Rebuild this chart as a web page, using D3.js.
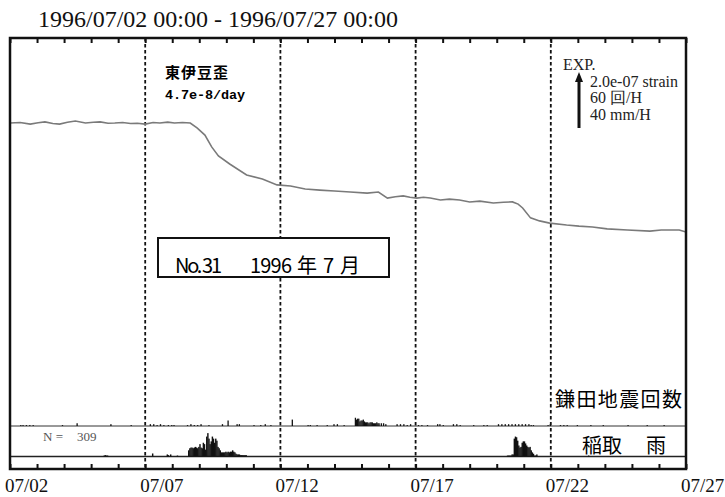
<!DOCTYPE html>
<html><head><meta charset="utf-8">
<script src="https://cdn.jsdelivr.net/npm/d3@7"></script>
<style>
html,body{margin:0;padding:0;background:#fff;}
svg{display:block;}
</style></head>
<body>
<svg id="chart" width="725" height="497"></svg>
<script>
// ---------- DATA ----------
const titleText = "1996/07/02 00:00 - 1996/07/27 00:00";
const startDay = "1996-07-02T00:00:00Z";
const endDay = "1996-07-27T00:00:00Z";
const tickLabels = ["07/02","07/07","07/12","07/17","07/22","07/27"];
const labelDays = [0,5,10,15,20,25];
const dashedDays = [5,10,15,20];

// strain (hours since start, value in 1e-8 strain, relative)
const strainHours = [0,9,18,25,31,38,44,51,58,67,74,80,87,93,100,107,113,120,127,133,140,146,153,160,166,173,179,185,195,210,224,237,249,262,275,288,302,317,327,335,342,349,355,361,367,373,382,390,399,408,417,429,438,446,451,455,462,470,479,494,505,517,530,548,568,578,588,594,600];
const strainValues = [0,0.2,-0.4,0.1,0.4,-0.2,-0.4,0.3,0.7,0,0.3,0.4,-0.1,0,0.2,-0.2,-0.1,-0.4,0.2,0,0.3,0,0.2,0,-1.8,-4.4,-8.7,-12.0,-14.9,-18.9,-20.4,-22.5,-22.9,-24.0,-24.4,-24.7,-25.1,-25.5,-25.1,-27.3,-26.8,-26.5,-27.0,-27.3,-27.0,-27.3,-28.0,-27.7,-28.0,-28.7,-28.4,-29.1,-28.8,-28.7,-29.5,-30.9,-34.5,-35.6,-36.4,-37.1,-37.5,-37.8,-38.5,-38.9,-39.3,-38.9,-38.9,-38.9,-39.6];

// earthquake counts (Kamata) per hour: [hour, count]
const quakeCounts = [[9,1],[11,1],[14,1],[17,1],[20,1],[46,1],[59,3],[89,2],[107,1],[124,2],[127,2],[130,1],[133,2],[136,1],[140,1],[143,1],[145,1],[157,1],[160,2],[163,1],[166,1],[169,2],[176,1],[188,2],[193,6],[201,2],[203,2],[216,1],[222,1],[226,2],[231,1],[250,7],[264,1],[266,1],[272,1],[281,1],[287,2],[290,2],[296,1],[306,9],[307,7],[308,8],[309,8],[310,5],[311,6],[312,6],[313,7],[314,5],[315,4],[316,4],[317,4],[318,3],[319,4],[320,4],[321,4],[322,3],[323,3],[324,3],[325,4],[326,3],[327,3],[329,3],[331,3],[333,2],[343,2],[346,2],[349,2],[352,1],[355,2],[362,1],[365,1],[370,1],[379,2],[381,2],[384,1],[393,2],[396,2],[399,1],[411,1],[420,1],[423,1],[433,2],[436,2],[439,2],[442,2],[445,2],[448,2],[451,2],[454,2],[457,2],[460,2],[462,1],[464,1],[477,1],[479,2],[488,1],[491,1],[494,1],[503,1],[515,1],[526,1],[548,1],[565,1],[580,1]];

// rainfall (Inatori) mm/H: small isolated hours [hour, mm]
const rainSingles = [[83,0.7],[84,1],[85,0.7],[86,0.7],[126,2.2],[139,1.5],[140,1],[142,1.5],[148,0.7],[513,0.7]];
// rainfall runs: start hour and consecutive hourly mm values
const rainRunAStart = 158;
const rainRunA = [4.5,6,6.5,6.5,6,6.5,7,6.5,6,7,9,6.5,6,10,9,5,14.5,17,13,9,11,14.5,13,10,13,11.5,7,6,4.5,3,3,3,3,3.5,3,3.5,3,3.5,3.5,4.5,3.5,3,2,1.5,1.5,1.5,1,1,1,1,1,1];
const rainRunBStart = 441;
const rainRunB = [0.7,0.7,0.7,0.7,1.5,1.5,13,14.5,14,11.5,8,6.5,7,10,11,11,9.5,8,7,6.5,7,4.5,3,2,0.7,0.7,1.5];

// ---------- LAYOUT ----------
const L = 10, R = 686, T = 38, B = 469;
const svg = d3.select("#chart");
const t0 = new Date(startDay), t1 = new Date(endDay);
const hr = h => new Date(t0.getTime() + h * 3600e3);
const day = d => new Date(t0.getTime() + d * 86400e3);
const x = d3.scaleUtc().domain([t0, t1]).range([L, R]);

// strain scale: 2.0e-07 strain (20 units) = arrow length
const yS = d3.scaleLinear().domain([0, -20]).range([123, 178]);
// earthquake: 60 counts/H = arrow length
const eqBase = 426;
const yQ = d3.scaleLinear().domain([0, 60]).range([eqBase, eqBase - 55]);
// rain: 40 mm/H = arrow length
const rnBase = 456.5;
const yR = d3.scaleLinear().domain([0, 40]).range([rnBase, rnBase - 55]);

const serif = "Liberation Serif, Times New Roman, serif";
const cjk = "Noto Sans CJK JP, sans-serif";

// Title
svg.append("text").attr("x", 38).attr("y", 27)
  .attr("font-family", serif).attr("font-size", 24)
  .attr("fill", "#111").text(titleText);

// dashed day lines
svg.append("g").selectAll("line").data(dashedDays).join("line")
  .attr("x1", d => x(day(d))).attr("x2", d => x(day(d)))
  .attr("y1", T).attr("y2", B)
  .attr("stroke", "#111").attr("stroke-width", 1.8).attr("stroke-dasharray", "3.5,2.5");

// panel separators
svg.append("line").attr("x1", L).attr("x2", R).attr("y1", eqBase).attr("y2", eqBase)
  .attr("stroke", "#333").attr("stroke-width", 1);
svg.append("line").attr("x1", L).attr("x2", R).attr("y1", rnBase).attr("y2", rnBase)
  .attr("stroke", "#222").attr("stroke-width", 1.6);

// daily ticks via axes
const allDays = d3.range(0, 26).map(day);
const axB = d3.axisBottom(x).tickValues(allDays).tickSize(-5).tickFormat("");
const gB = svg.append("g").attr("transform", `translate(0,${B})`).call(axB);
gB.select(".domain").remove();
gB.selectAll(".tick line").attr("stroke", "#111").attr("stroke-width", 2);
const axT = d3.axisTop(x).tickValues(allDays).tickSize(-5).tickFormat("");
const gT = svg.append("g").attr("transform", `translate(0,${T})`).call(axT);
gT.select(".domain").remove();
gT.selectAll(".tick line").attr("stroke", "#111").attr("stroke-width", 2);

// tick labels
svg.append("g").selectAll("text").data(labelDays).join("text")
  .attr("x", d => x(day(d)) - 5).attr("y", 492)
  .attr("font-family", serif).attr("font-size", 19)
  .attr("fill", "#111").text((d, i) => tickLabels[i]);

// strain line
const strainData = strainHours.map((h, i) => ({t: hr(h), v: strainValues[i]}));
svg.append("path").datum(strainData)
  .attr("d", d3.line().x(d => x(d.t)).y(d => yS(d.v)))
  .attr("fill", "none").attr("stroke", "#7a7a7a").attr("stroke-width", 1.6);

// earthquakes
const barW = x(hr(1)) - x(hr(0));
svg.append("g").selectAll("rect").data(quakeCounts).join("rect")
  .attr("x", d => x(hr(d[0]))).attr("width", Math.max(1.3, barW))
  .attr("y", d => yQ(d[1])).attr("height", d => eqBase - yQ(d[1]))
  .attr("fill", "#111");

// rain
const rainData = rainSingles.map(d => d.slice())
  .concat(rainRunA.map((v, i) => [rainRunAStart + i, v]))
  .concat(rainRunB.map((v, i) => [rainRunBStart + i, v]));
svg.append("g").selectAll("rect").data(rainData).join("rect")
  .attr("x", d => x(hr(d[0]))).attr("width", barW + 0.3)
  .attr("y", d => yR(d[1])).attr("height", d => rnBase - yR(d[1]))
  .attr("fill", "#111");

// frame
svg.append("rect").attr("x", L).attr("y", T).attr("width", R - L).attr("height", B - T)
  .attr("fill", "none").attr("stroke", "#111").attr("stroke-width", 2.5);

// strain station label
svg.append("text").attr("x", 165).attr("y", 78)
  .attr("font-family", cjk).attr("font-weight", "bold").attr("font-size", 15)
  .attr("textLength", 63).text("東伊豆歪");
svg.append("text").attr("x", 165).attr("y", 99)
  .attr("font-family", "Liberation Mono, DejaVu Sans Mono, monospace").attr("font-weight", "bold").attr("font-size", 13.5)
  .attr("textLength", 80).text("4.7e-8/day");

// EXP legend
svg.append("text").attr("x", 563).attr("y", 70).attr("font-family", serif).attr("font-size", 16).attr("fill", "#222").text("EXP.");
svg.append("text").attr("x", 590).attr("y", 87).attr("font-family", serif).attr("font-size", 16).attr("fill", "#222").text("2.0e-07 strain");
svg.append("text").attr("x", 590).attr("y", 103).attr("font-family", serif).attr("font-size", 16).attr("fill", "#222").text("60  回/H");
svg.append("text").attr("x", 590).attr("y", 120).attr("font-family", serif).attr("font-size", 16).attr("fill", "#222").text("40 mm/H");
const ax0 = 579;
svg.append("line").attr("x1", ax0).attr("x2", ax0).attr("y1", yS(-20) - 178 + 128).attr("y2", 80)
  .attr("stroke", "#111").attr("stroke-width", 3);
svg.append("path").attr("d", `M${ax0 - 4},82 L${ax0},72 L${ax0 + 4},82 Z`).attr("fill", "#111");

// No. box
svg.append("rect").attr("x", 158).attr("y", 238).attr("width", 231).attr("height", 39)
  .attr("fill", "#fff").attr("stroke", "#111").attr("stroke-width", 2);
svg.append("text").attr("x", 175).attr("y", 273).attr("font-family", cjk).attr("font-size", 20).attr("textLength", 47).text("No. 31");
svg.append("text").attr("x", 250).attr("y", 273).attr("font-family", cjk).attr("font-size", 20).attr("textLength", 42).text("1996");
svg.append("text").attr("x", 297).attr("y", 273).attr("font-family", cjk).attr("font-size", 20).text("年");
svg.append("text").attr("x", 323).attr("y", 273).attr("font-family", cjk).attr("font-size", 20).text("7");
svg.append("text").attr("x", 340).attr("y", 273).attr("font-family", cjk).attr("font-size", 20).text("月");

// panel labels
svg.append("text").attr("x", 555).attr("y", 407).attr("font-family", cjk).attr("font-size", 20)
  .attr("textLength", 127).text("鎌田地震回数");
svg.append("text").attr("x", 582).attr("y", 453).attr("font-family", cjk).attr("font-size", 20).text("稲取");
svg.append("text").attr("x", 646).attr("y", 453).attr("font-family", cjk).attr("font-size", 20).text("雨");
svg.append("text").attr("x", 43).attr("y", 441).attr("font-family", serif).attr("font-size", 13).attr("fill", "#555").text("N =");
svg.append("text").attr("x", 77).attr("y", 441).attr("font-family", serif).attr("font-size", 13).attr("fill", "#555").text("309");
</script>
</body></html>
